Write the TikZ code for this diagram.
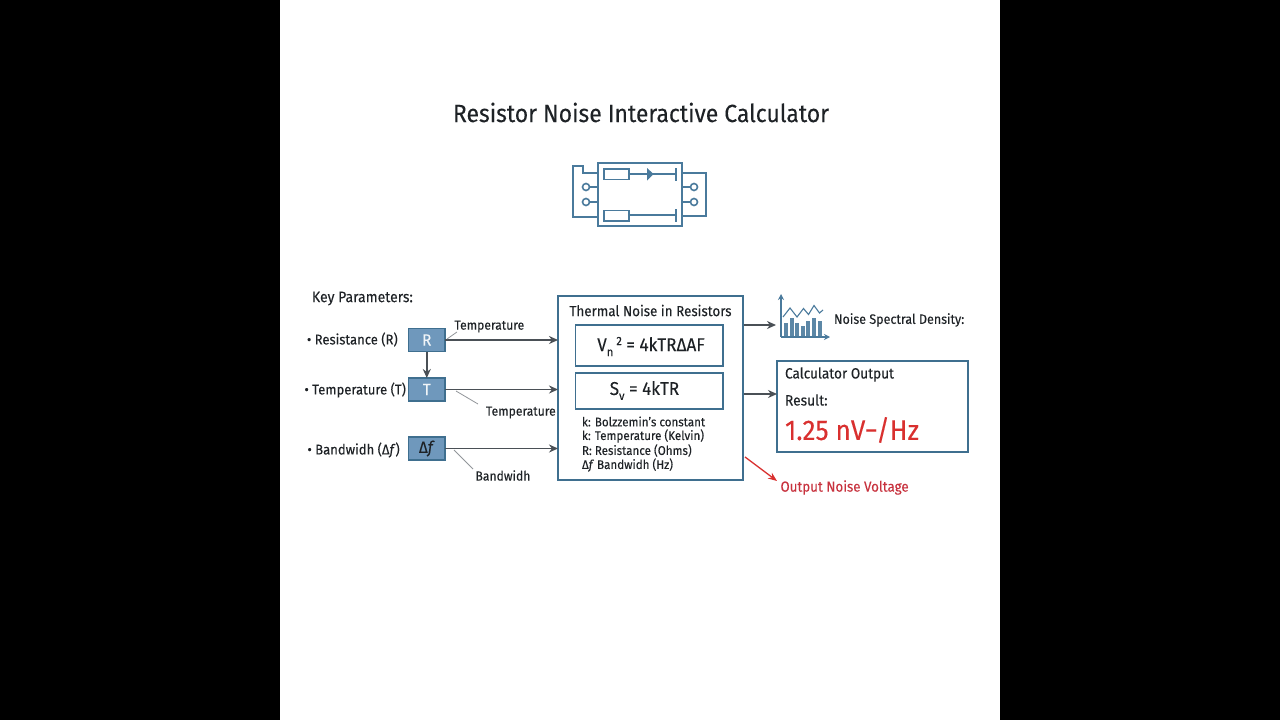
\documentclass[tikz,border=0pt]{standalone}
\usepackage{fontspec}
\setmainfont[FakeStretch=0.92,FakeBold=0.06]{Fira Sans}
\usetikzlibrary{arrows.meta}
\definecolor{frameblue}{HTML}{3F6F8F}
\definecolor{fillblue}{HTML}{6F98BC}
\definecolor{iconblue}{HTML}{4A7A9C}
\definecolor{inkdark}{HTML}{1E2226}
\definecolor{arrowgrey}{HTML}{4A5056}
\definecolor{redtxt}{HTML}{D9302F}
\definecolor{redlbl}{HTML}{C8323E}
\tikzset{
  txt/.style={inner sep=0pt,outer sep=0pt,text=inkdark,font=\fontsize{#1}{#1}\selectfont,anchor=west},
  txt/.default=13,
  framebox/.style={draw=frameblue,line width=1.6pt,fill=white,inner sep=0pt,outer sep=0pt},
  parambox/.style={draw=frameblue,line width=1.2pt,fill=fillblue,minimum width=36.5pt,minimum height=23pt,inner sep=0pt,outer sep=0pt,font=\fontsize{16.5}{16.5}\selectfont},
  flow/.style={draw=arrowgrey,line width=1.6pt,-{Stealth[length=9pt,width=8pt]}},
  leader/.style={draw=arrowgrey!60,line width=0.8pt},
  icon/.style={draw=iconblue,line width=1.6pt},
  redflow/.style={draw=redtxt,line width=1.3pt,-{Stealth[length=9pt,width=7pt]}},
}
\begin{document}
\begin{tikzpicture}[x=1pt,y=-1pt]
\useasboundingbox (0,0) rectangle (1280,720);
\fill[black] (0,0) rectangle (1280,720);
\fill[white] (280,0) rectangle (1000,720);

\node[txt=24.9,anchor=center] (title) at (641,112.5) {Resistor Noise Interactive Calculator};

% circuit icon
\draw[icon] (598,163) rectangle (682,226);
\draw[icon] (598,173) -- (583,173) -- (583,166) -- (573,166) -- (573,217) -- (598,217);
\draw[icon] (682,173) -- (706,173) -- (706,216) -- (682,216);
\draw[icon] (598,187) -- (589.5,187);
\draw[icon] (598,202) -- (589.5,202);
\draw[icon] (586,187) circle (3.5);
\draw[icon] (586,202) circle (3.5);
\draw[icon] (682,187) -- (690.5,187);
\draw[icon] (682,202) -- (690.5,202);
\draw[icon] (694,187) circle (3.5);
\draw[icon] (694,202) circle (3.5);
\draw[icon] (604,169) rectangle (629,179.5);
\draw[icon] (629,174) -- (676,174);
\draw[icon] (676,168) -- (676,181);
\fill[iconblue] (647,168) -- (653.5,174) -- (647,180.5) -- cycle;
\draw[icon] (604,210.5) rectangle (629,221);
\draw[icon] (629,215) -- (676,215);
\draw[icon] (676,209) -- (676,222);

% left column
\node[txt=15.2] (keyp) at (312,298.5) {Key Parameters:};
\node[txt=14.2] (lr) at (307,339.5) {• Resistance (R)};
\node[txt=14.2] (lt) at (304.5,390) {• Temperature (T)};
\node[txt=14.2] (lb) at (307.5,450) {• Bandwidh (Δ\textit{f})};

\node[parambox,text=white!90!fillblue] (R) at (426.8,340) {R};
\node[parambox,text=white!90!fillblue] (T) at (426.8,389.5) {T};
\node[parambox,text=inkdark] (Df) at (426.8,448.5) {Δ\textit{f}};

% main block
\node[framebox,minimum width=185pt,minimum height=184pt] (main) at (650.5,388) {};
\node[txt=14.6,anchor=center] (mt) at (650.5,310.5) {Thermal Noise in Resistors};
\node[framebox,minimum width=147.5pt,minimum height=41pt] (eq1) at (649.2,345.5) {};
\node[framebox,minimum width=147.5pt,minimum height=36pt] (eq2) at (649.2,391) {};
\node[txt=18.6,anchor=center] (eq1t) at (651,346.5) {V\raisebox{-5pt}{\fontsize{12}{12}\selectfont n}\,\raisebox{6pt}{\fontsize{12}{12}\selectfont 2} = 4kTRΔAF};
\node[txt=18.6,anchor=center] (eq2t) at (644.5,390.5) {S\raisebox{-5pt}{\fontsize{12}{12}\selectfont v} = 4kTR};
\node[txt=12.6] (n1) at (582,421.5) {k: Bolzzemin's constant};
\node[txt=12.6] (n2) at (582,436) {k: Temperature (Kelvin)};
\node[txt=12.6] (n3) at (582,450.5) {R: Resistance (Ohms)};
\node[txt=12.6] (n4) at (582,465) {Δ\textit{f} Bandwidh (Hz)};

% connectors
\draw[flow] (R.east) -- (R.east -| main.west);
\draw[flow] (T.east) -- (T.east -| main.west);
\draw[flow] (Df.east) -- (Df.east -| main.west);
\draw[flow] (R.south) -- (T.north);

\node[txt=13.2] (tl1) at (454.5,326.5) {Temperature};
\node[txt=13.2] (tl2) at (486,412.5) {Temperature};
\node[txt=13.2] (bl) at (475.5,475.5) {Bandwidh};
\coordinate (c1) at (447,339);
\coordinate (c2) at (456,391);
\coordinate (c3) at (454,450);
\draw[leader] (c1) -- (457,332);
\draw[leader] (c2) -- (478,404);
\draw[leader] (c3) -- (473,469);

% spectrum icon
\draw[icon,-{Stealth[length=6pt,width=6pt]}] (781,337) -- (781,294);
\draw[icon,-{Stealth[length=6pt,width=6pt]}] (781,337) -- (830,337);
\foreach \xx/\yy in {786/322.5,791.7/318,797.3/323,802.7/326,808.3/321,814/318,820/320.5}
  \fill[iconblue!90!white] (\xx-2,\yy) rectangle (\xx+2,336);
\draw[iconblue,line width=1.1pt] (783,317) -- (790,308) -- (797,317) -- (803.5,308.5) -- (808.5,314.5) -- (814,305.5) -- (819.5,313) -- (823,310);
\coordinate (spec) at (776,325);
\coordinate (specout) at (743.5,325);
\draw[flow] (specout) -- (spec);
\node[txt=13.6] (nsd) at (834,320) {Noise Spectral Density:};

% output
\node[framebox,minimum width=191pt,minimum height=91pt] (out) at (872.5,406.5) {};
\node[txt=14.8] (ot) at (785,374.5) {Calculator Output};
\node[txt=15] (rl) at (785,400) {Result:};
\node[txt=28.4,text=redtxt] (val) at (785,430) {1.25 nV−/Hz};
\coordinate (o2) at (743.5,394);
\draw[flow] (o2) -- (out.west |- o2);
\coordinate (rs) at (745,457);
\coordinate (re) at (777,481);
\draw[redflow] (rs) -- (re);
\node[txt=14.5,text=redlbl] (onv) at (780.5,487.5) {Output Noise Voltage};
\end{tikzpicture}
\end{document}
